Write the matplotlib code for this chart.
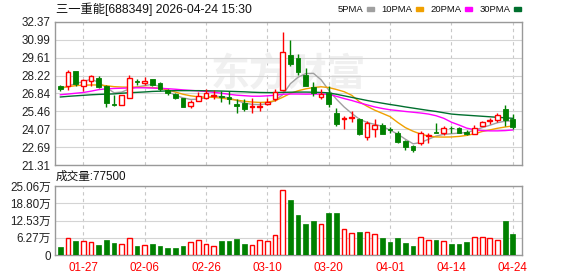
import numpy as np
import matplotlib
matplotlib.use("Agg")
import matplotlib.pyplot as plt
from matplotlib.patches import Rectangle

plt.rcParams["font.family"] = ["Liberation Sans", "Noto Sans CJK SC", "DejaVu Sans"]

# ---------------------------------------------------------------------------
# data
# ---------------------------------------------------------------------------
dates = ["01-22", "01-23", "01-26", "01-27", "01-28", "01-29", "01-30", "02-02",
         "02-03", "02-04", "02-05", "02-06", "02-09", "02-10", "02-11", "02-12",
         "02-13", "02-24", "02-25", "02-26", "02-27", "03-02", "03-03", "03-04",
         "03-05", "03-06", "03-09", "03-10", "03-11", "03-12", "03-13", "03-16",
         "03-17", "03-18", "03-19", "03-20", "03-23", "03-24", "03-25", "03-26",
         "03-27", "03-30", "03-31", "04-01", "04-02", "04-03", "04-07", "04-08",
         "04-09", "04-10", "04-13", "04-14", "04-15", "04-16", "04-17", "04-20",
         "04-21", "04-22", "04-23", "04-24"]
tick_dates = ["01-27", "02-06", "02-26", "03-10", "03-20", "04-01", "04-14", "04-24"]

opens = [27.45, 27.45, 28.55, 27.45, 27.79, 28.05, 27.45, 26.05, 25.97, 26.51,
         27.79, 27.66, 27.99, 27.66, 27.09, 26.82, 26.46, 25.86, 26.25, 26.48,
         26.68, 26.65, 26.55, 26.00, 26.12, 25.82, 25.80, 26.05, 26.38, 27.09,
         29.84, 29.58, 28.25, 27.32, 26.56, 26.89, 25.36, 24.90, 24.92, 24.84,
         23.51, 24.13, 24.38, 24.07, 23.82, 23.13, 22.79, 23.02, 23.56, 23.88,
         23.77, 24.20, 24.20, 23.87, 23.74, 24.33, 24.69, 24.79, 25.66, 24.84]
highs = [27.53, 28.63, 28.55, 27.97, 28.30, 28.17, 27.53, 26.76, 26.69, 28.30,
         27.99, 28.12, 27.99, 27.71, 27.15, 26.89, 26.51, 26.30, 26.94, 27.15,
         27.09, 27.00, 27.05, 26.38, 26.38, 26.46, 26.20, 26.48, 27.15, 31.57,
         30.99, 29.91, 28.81, 27.74, 27.20, 27.45, 25.74, 25.10, 25.48, 24.97,
         24.71, 24.90, 24.59, 24.25, 23.95, 23.25, 22.87, 23.95, 23.82, 24.59,
         24.33, 24.33, 24.28, 24.02, 24.41, 24.71, 24.97, 25.30, 25.92, 25.23]
lows = [27.02, 27.13, 27.45, 27.02, 27.45, 27.28, 25.82, 25.86, 25.97, 26.51,
        27.53, 27.53, 27.45, 27.02, 26.76, 26.43, 25.79, 25.71, 26.25, 26.43,
        26.38, 26.20, 26.00, 25.36, 25.48, 25.33, 25.45, 25.92, 26.25, 27.02,
        28.94, 28.30, 27.40, 26.63, 26.38, 25.79, 24.33, 24.07, 24.64, 23.61,
        23.25, 23.51, 23.69, 23.82, 23.05, 22.46, 22.33, 22.87, 23.05, 23.79,
        23.61, 23.82, 23.80, 23.61, 23.69, 24.30, 24.46, 24.67, 24.33, 24.07]
closes = [27.20, 28.47, 27.60, 27.86, 28.22, 27.35, 26.12, 25.92, 26.69, 28.05,
          27.74, 27.84, 27.48, 27.15, 26.84, 26.46, 25.82, 26.20, 26.61, 26.84,
          26.72, 26.55, 26.40, 25.90, 25.61, 25.89, 25.88, 26.20, 26.94, 30.04,
          29.12, 28.47, 27.45, 26.86, 26.82, 25.99, 24.46, 24.96, 25.02, 23.69,
          24.59, 24.38, 23.74, 24.00, 23.10, 22.67, 22.46, 23.80, 23.64, 23.82,
          24.15, 24.15, 23.82, 23.74, 24.20, 24.64, 24.79, 25.15, 24.77, 24.28]
volumes = [30000, 60000, 52000, 52000, 47000, 38000, 56000, 45000, 40000, 62000,
           34000, 36000, 41000, 34000, 24000, 27000, 34000, 47000, 56000, 40000,
           34000, 52000, 52000, 57000, 41000, 36000, 56000, 52000, 73000, 235000,
           198000, 147000, 114000, 125000, 114000, 151000, 151000, 95000, 80000, 85000,
           85000, 78000, 60000, 49000, 60000, 45000, 34000, 66000, 56000, 56000,
           52000, 41000, 41000, 49000, 66000, 66000, 62000, 56000, 122000, 77500]

ma5 = [27.20, 27.40, 27.62, 27.75, 27.95, 27.70, 27.30, 26.90, 26.95, 27.20,
       27.35, 27.45, 27.55, 27.38, 27.00, 26.70, 26.50, 26.38, 26.40, 26.52,
       26.62, 26.60, 26.50, 26.30, 26.10, 26.00, 25.98, 26.05, 26.30, 26.75,
       27.60, 28.10, 28.38, 28.40, 27.90, 27.10, 26.40, 25.80, 25.30, 24.85,
       24.60, 24.45, 24.30, 24.00, 23.70, 23.30, 22.95, 23.05, 23.30, 23.55,
       23.68, 23.73, 23.78, 23.82, 24.00, 24.20, 24.38, 24.58, 24.70, 24.72]
ma10 = [27.28, 27.36, 27.45, 27.48, 27.50, 27.50, 27.44, 27.37, 27.34, 27.33,
        27.33, 27.32, 27.30, 27.24, 27.12, 26.95, 26.78, 26.66, 26.58, 26.56,
        26.54, 26.48, 26.40, 26.33, 26.24, 26.18, 26.15, 26.17, 26.28, 26.55,
        26.85, 27.05, 27.20, 27.30, 27.36, 27.30, 27.15, 26.98, 26.70, 26.20,
        25.85, 25.55, 25.30, 25.05, 24.60, 24.20, 23.92, 23.70, 23.55, 23.48,
        23.47, 23.48, 23.52, 23.60, 23.72, 23.90, 24.02, 24.15, 24.25, 24.33]
ma20 = [26.74, 26.80, 26.86, 26.92, 27.02, 27.14, 27.20, 27.23, 27.25, 27.27,
        27.28, 27.28, 27.26, 27.24, 27.21, 27.17, 27.12, 27.08, 27.04, 27.00,
        26.93, 26.86, 26.78, 26.71, 26.67, 26.63, 26.63, 26.66, 26.70, 26.78,
        26.80, 26.80, 26.79, 26.80, 26.79, 26.78, 26.62, 26.45, 26.30, 26.12,
        25.96, 25.80, 25.68, 25.58, 25.52, 25.45, 25.39, 25.33, 25.25, 25.12,
        24.92, 24.62, 24.40, 24.16, 24.04, 23.97, 23.95, 23.95, 23.97, 24.02]
ma30 = [26.57, 26.62, 26.66, 26.70, 26.74, 26.77, 26.79, 26.81, 26.86, 26.90,
        26.93, 26.96, 27.00, 27.02, 27.04, 27.06, 27.06, 27.06, 27.06, 27.05,
        27.04, 27.03, 27.01, 26.99, 26.97, 26.94, 26.92, 26.91, 26.91, 26.93,
        26.94, 26.95, 26.95, 26.94, 26.92, 26.89, 26.78, 26.66, 26.54, 26.42,
        26.30, 26.19, 26.09, 25.99, 25.90, 25.80, 25.71, 25.62, 25.53, 25.45,
        25.35, 25.25, 25.20, 25.16, 25.12, 25.08, 25.04, 25.00, 24.96, 24.92]

price_ticks = ["21.31", "22.69", "24.07", "25.46", "26.84", "28.22", "29.61", "30.99", "32.37"]
vol_ticks = [0, 62700, 125300, 188000, 250600]
vol_labels = ["0", "6.27万", "12.53万", "18.80万", "25.06万"]

# ---------------------------------------------------------------------------
RED, GREEN = "#ff0000", "#008000"
MA_COLORS = ["#a0a0a0", "#f0a000", "#ff00ff", "#006f2e"]
FS = 8.4

W, H = 578, 276
fig = plt.figure(figsize=(W / 100, H / 100), dpi=100)


def box(x0, y0, x1, y1):
    return [x0 / W, 1 - y1 / H, (x1 - x0) / W, (y1 - y0) / H]


axp = fig.add_axes(box(55, 22, 522, 165))
axv = fig.add_axes(box(55, 186, 522, 255))

x = np.arange(len(dates))
o, h, l, c = map(np.array, (opens, highs, lows, closes))
up = c >= o
tick_idx = [dates.index(d) for d in tick_dates]
bw = 0.62

for ax in (axp, axv):
    ax.set_xlim(-0.7, len(dates) + 0.2)
    for s in ax.spines.values():
        s.set_color("#999999")
        s.set_linewidth(1)
    ax.tick_params(length=0, labelsize=FS, colors="#222222", pad=3)
    for i in tick_idx:
        ax.axvline(i, color="#c8c8c8", lw=0.8, ls=(0, (3, 3)), zorder=0)

# price panel
p0, p1 = float(price_ticks[0]), float(price_ticks[-1])
axp.set_ylim(p0, p1)
axp.set_yticks([float(t) for t in price_ticks])
axp.set_yticklabels(price_ticks)
axp.set_xticks([])
axp.grid(axis="y", color="#d4d4d4", lw=0.8)
axp.set_axisbelow(True)

axp.text(0.50, 0.63, "东方财富", transform=axp.transAxes, fontsize=28,
         color="#f0f0f0", ha="center", va="center", fontweight="bold",
         fontstyle="italic", family=["Noto Sans CJK SC"], zorder=0)

# ma lines
for ma, col in zip((ma5, ma10, ma20, ma30), MA_COLORS):
    axp.plot(x, ma, color=col, lw=1.0, zorder=2)

# candles
for i in x:
    col = RED if up[i] else GREEN
    top, bot = max(o[i], c[i]), min(o[i], c[i])
    axp.vlines(i, top, h[i], color=col, lw=1.0, zorder=3)
    axp.vlines(i, l[i], bot, color=col, lw=1.0, zorder=3)
    ht = max(top - bot, 0.03)
    if up[i]:
        axp.add_patch(Rectangle((i - bw / 2, bot), bw, ht, fc="white",
                                ec=col, lw=1.0, zorder=4))
    else:
        axp.add_patch(Rectangle((i - bw / 2, bot), bw, ht, fc=col,
                                ec=col, lw=0.6, zorder=4))

# volume panel
axv.set_ylim(0, vol_ticks[-1])
axv.set_yticks(vol_ticks)
axv.set_yticklabels(vol_labels)
axv.grid(axis="y", color="#d4d4d4", lw=0.8)
axv.set_axisbelow(True)
vols = np.array(volumes)
axv.bar(x[up], vols[up], width=bw, facecolor="white", edgecolor=RED, lw=1.0, zorder=3)
axv.bar(x[~up], vols[~up], width=bw, facecolor=GREEN, edgecolor=GREEN, lw=0.5, zorder=3)
axv.set_xticks(tick_idx)
axv.set_xticklabels(tick_dates, color=RED, fontsize=FS)
axv.tick_params(axis="x", pad=5)

# header texts
fig.text(56 / W, 1 - 9 / H, "三一重能[688349] 2026-04-24 15:30", fontsize=8.8,
         va="center", ha="left", color="#111111")
fig.text(56 / W, 1 - 177 / H, "成交量:%d" % volumes[-1], fontsize=FS,
         va="center", ha="left", color="#111111")

# legend along the top right
lx = 338
for name, col in zip(["5PMA", "10PMA", "20PMA", "30PMA"], MA_COLORS):
    t = fig.text(lx / W, 1 - 9 / H, name, fontsize=6.8, va="center", ha="left",
                 color="#111111")
    fig.canvas.draw()
    bb = t.get_window_extent()
    x1 = bb.x1 + 3
    fig.add_artist(Rectangle((x1 / W, 1 - 10.5 / H), 7 / W, 3 / H, color=col,
                             transform=fig.transFigure))
    lx = x1 + 15

fig.savefig("out.png", dpi=100)
